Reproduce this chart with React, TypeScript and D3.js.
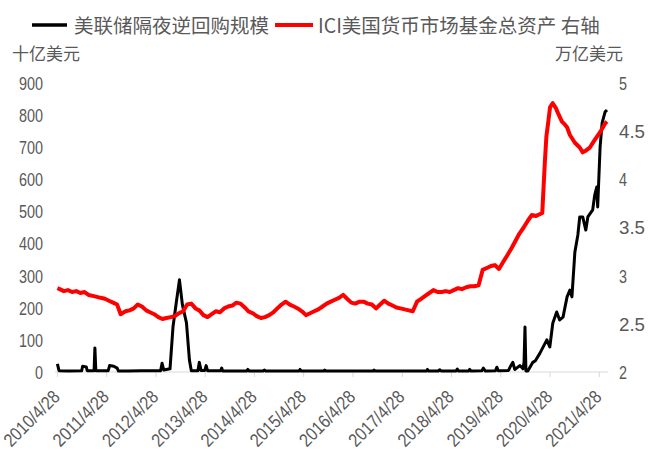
import React from "react";
import * as d3 from "d3";

const rrpDates = [
  "2010-04-28","2010-05-10","2010-07-20","2010-10-25","2010-11-01","2010-11-28","2010-12-05",
  "2011-01-25","2011-01-31","2011-02-07","2011-05-10","2011-05-20","2011-06-20","2011-07-15","2011-07-25","2011-10-01",
  "2012-01-10","2012-06-01","2012-06-12","2012-06-25","2012-08-10","2012-09-01","2012-09-25","2012-10-19","2012-11-10","2012-12-10",
  "2013-01-01","2013-01-15","2013-03-05","2013-03-15","2013-03-28","2013-04-25","2013-05-05","2013-05-15","2013-08-20","2013-08-28","2013-09-05",
  "2014-03-01","2014-03-10","2014-03-20","2014-07-01","2014-07-10","2014-07-20",
  "2015-03-25","2015-04-01","2015-04-10","2015-09-25","2015-10-01","2015-10-10",
  "2016-09-25","2016-10-01","2016-10-10",
  "2017-10-25","2017-11-01","2017-11-10",
  "2018-01-20","2018-02-01","2018-02-10","2018-06-01","2018-06-10","2018-06-20","2018-09-01","2018-09-10","2018-09-20","2018-12-10","2018-12-20",
  "2019-01-05","2019-03-20","2019-03-30","2019-04-10","2019-06-25","2019-07-10","2019-07-27","2019-08-10","2019-09-17","2019-10-10","2019-10-18","2019-10-25","2019-11-01","2019-11-15","2019-12-22",
  "2020-01-10","2020-02-12","2020-04-04","2020-04-26","2020-05-18","2020-06-16","2020-07-08","2020-08-02","2020-09-01","2020-09-22","2020-10-07","2020-10-29","2020-11-20","2020-12-04","2020-12-26",
  "2021-01-18","2021-02-02","2021-03-10","2021-03-25","2021-04-09","2021-04-16","2021-05-04","2021-05-19","2021-06-10","2021-06-24",
];
const rrpValues = [
  25,4,3,4,18,16,4,
  4,75,4,4,20,18,12,3,3,
  4,4,27,6,10,140,215,287,209,153,
  37,4,4,30,5,5,20,4,4,12,3,
  3,8,3,3,6,3,
  3,8,3,3,6,3,
  3,6,3,
  3,8,3,
  3,7,3,3,9,3,3,8,3,4,12,
  3,4,15,4,5,18,30,8,20,10,30,140,3,3,30,
  35,58,100,78,152,187,162,171,234,255,234,374,427,483,483,
  442,483,505,551,576,514,701,776,810,816,
];

const mmfDates = [
  "2010-04-28","2010-05-15","2010-06-15","2010-07-15","2010-08-15","2010-09-15","2010-10-15","2010-11-15","2010-12-15",
  "2011-01-15","2011-02-15","2011-03-15","2011-04-15","2011-05-15","2011-06-15","2011-07-15","2011-08-10","2011-09-15","2011-10-15","2011-11-15","2011-12-15",
  "2012-01-15","2012-02-15","2012-03-15","2012-04-15","2012-05-15","2012-06-15","2012-07-15","2012-08-15","2012-09-15","2012-10-15","2012-11-15","2012-12-15",
  "2013-01-15","2013-02-15","2013-03-15","2013-04-15","2013-05-15","2013-06-15","2013-07-15","2013-08-15","2013-09-15","2013-10-15","2013-11-15","2013-12-15",
  "2014-01-15","2014-02-15","2014-03-15","2014-04-15","2014-05-15","2014-06-15","2014-07-15","2014-08-15","2014-09-15","2014-10-15","2014-11-15","2014-12-15",
  "2015-01-15","2015-02-15","2015-03-15","2015-04-15","2015-05-15","2015-06-15","2015-07-15","2015-08-15","2015-09-15","2015-10-15","2015-11-15","2015-12-15",
  "2016-01-15","2016-02-15","2016-03-15","2016-04-15","2016-05-15","2016-06-15","2016-07-15","2016-08-15","2016-09-15","2016-10-15","2016-11-15","2016-12-15",
  "2017-01-15","2017-02-15","2017-03-15","2017-04-15","2017-05-15","2017-06-15","2017-07-15","2017-08-15","2017-09-15","2017-10-15","2017-11-15","2017-12-15",
  "2018-01-15","2018-02-15","2018-03-15","2018-04-15","2018-05-15","2018-06-15","2018-07-15","2018-08-15","2018-09-15","2018-10-15","2018-11-15","2018-12-15",
  "2019-01-15","2019-02-15","2019-03-15","2019-04-15","2019-05-15","2019-06-15","2019-07-15","2019-08-15","2019-09-15","2019-10-15","2019-11-15","2019-12-15",
  "2020-01-15","2020-02-15","2020-03-01","2020-03-20","2020-04-01","2020-04-15","2020-04-28","2020-05-18","2020-06-10","2020-06-25","2020-07-25","2020-08-15","2020-09-01","2020-09-22","2020-10-29","2020-12-04","2020-12-26",
  "2021-01-20","2021-02-17","2021-03-25","2021-05-04","2021-06-10","2021-06-24",
];
const mmfValues = [
  2.87,2.86,2.84,2.85,2.83,2.84,2.82,2.83,2.80,
  2.79,2.78,2.77,2.76,2.74,2.72,2.70,2.60,2.63,2.64,2.66,2.70,
  2.68,2.64,2.62,2.60,2.57,2.55,2.56,2.57,2.58,2.61,2.63,2.70,
  2.71,2.66,2.64,2.59,2.57,2.60,2.63,2.62,2.66,2.68,2.69,2.72,
  2.71,2.67,2.63,2.61,2.58,2.56,2.57,2.59,2.62,2.66,2.70,2.73,
  2.70,2.68,2.66,2.63,2.59,2.61,2.63,2.65,2.68,2.71,2.73,2.75,
  2.77,2.80,2.76,2.72,2.71,2.73,2.73,2.71,2.70,2.66,2.70,2.74,
  2.71,2.69,2.67,2.66,2.65,2.64,2.63,2.73,2.76,2.79,2.82,2.85,
  2.83,2.83,2.84,2.83,2.85,2.87,2.86,2.88,2.89,2.89,2.90,3.06,
  3.08,3.10,3.11,3.07,3.14,3.21,3.28,3.36,3.44,3.50,3.57,3.63,
  3.62,3.64,3.65,4.17,4.45,4.60,4.75,4.79,4.74,4.69,4.60,4.57,4.54,4.46,4.38,4.33,4.28,
  4.30,4.33,4.41,4.49,4.58,4.60,
];

const leftTicks = [0, 100, 200, 300, 400, 500, 600, 700, 800, 900];
const rightTicks = [2, 2.5, 3, 3.5, 4, 4.5, 5];
const xTickYears = [2010, 2011, 2012, 2013, 2014, 2015, 2016, 2017, 2018, 2019, 2020, 2021];

const legendLabels = ["美联储隔夜逆回购规模", "ICI美国货币市场基金总资产 右轴"];
const leftUnit = "十亿美元";
const rightUnit = "万亿美元";

const parse = d3.timeParse("%Y-%m-%d");

export default function App() {
  const x = d3
    .scaleTime()
    .domain([new Date(2010, 3, 28), new Date(2021, 3, 28)])
    .range([57.4, 599.3]);
  const yL = d3.scaleLinear().domain([0, 900]).range([372, 83]);
  const yR = d3.scaleLinear().domain([2, 5]).range([372, 83]);

  const rrp = rrpDates.map((d, i) => ({ date: parse(d) as Date, v: rrpValues[i] }));
  const mmf = mmfDates.map((d, i) => ({ date: parse(d) as Date, v: mmfValues[i] }));

  const rrpLine = d3
    .line<{ date: Date; v: number }>()
    .x((d) => x(d.date))
    .y((d) => yL(d.v));
  const mmfLine = d3
    .line<{ date: Date; v: number }>()
    .x((d) => x(d.date))
    .y((d) => yR(d.v));

  const numFont = "'Liberation Sans', Arial, sans-serif";
  const cjkFont = "'Noto Sans CJK SC', sans-serif";
  const textColor = "#595959";
  // condensed look: width per character
  const numWidth = (s: string) =>
    s.split("").reduce((w, c) => w + (c === "." ? 10 : c === "/" ? 4.2 : 8), 0);

  return (
    <svg
      width={648}
      height={459}
      style={{ position: "absolute", left: 0, top: 0, background: "#fff" }}
    >
      <rect x={0} y={0} width={648} height={459} fill="#fff" />
      {/* legend */}
      <line x1={32} x2={67} y1={25} y2={25} stroke="#000" strokeWidth={3.5} />
      <text x={74} y={33} fontFamily={cjkFont} fontSize={19.5} fill={textColor}>
        {legendLabels[0]}
      </text>
      <line x1={275} x2={313} y1={25} y2={25} stroke="#ff0000" strokeWidth={4} />
      <text x={318} y={33} fontFamily={cjkFont} fontSize={19.5} fill={textColor}>
        {legendLabels[1]}
      </text>
      {/* units */}
      <text x={12} y={60} fontFamily={cjkFont} fontSize={17} fill={textColor}>
        {leftUnit}
      </text>
      <text x={623} y={60} textAnchor="end" fontFamily={cjkFont} fontSize={17} fill={textColor}>
        {rightUnit}
      </text>

      {/* left ticks */}
      {leftTicks.map((t) => (
        <text
          key={"l" + t}
          x={43}
          y={yL(t)}
          dy="0.36em"
          textAnchor="end"
          fontFamily={numFont}
          fontSize={19}
          fill={textColor}
          textLength={numWidth(String(t))}
          lengthAdjust="spacingAndGlyphs"
        >
          {t}
        </text>
      ))}
      {/* right ticks */}
      {rightTicks.map((t) => (
        <text
          key={"r" + t}
          x={619}
          y={yR(t)}
          dy="0.36em"
          textAnchor="start"
          fontFamily={numFont}
          fontSize={19}
          fill={textColor}
          textLength={numWidth(String(t))}
          lengthAdjust="spacingAndGlyphs"
        >
          {t}
        </text>
      ))}

      {/* x axis */}
      <line x1={55} x2={608} y1={372} y2={372} stroke="#d9d9d9" strokeWidth={1} />
      {xTickYears.map((yr) => {
        const tx = x(new Date(yr, 3, 28));
        const label = `${yr}/4/28`;
        return (
          <g key={"x" + yr}>
            <line x1={tx} x2={tx} y1={372} y2={377} stroke="#d9d9d9" />
            <text
              transform={`translate(${tx + 3.5},398) rotate(-45)`}
              textAnchor="end"
              fontFamily={numFont}
              fontSize={18.5}
              fill={textColor}
              textLength={numWidth(label) + 6}
              lengthAdjust="spacingAndGlyphs"
            >
              {label}
            </text>
          </g>
        );
      })}

      {/* series */}
      <path d={rrpLine(rrp) || ""} fill="none" stroke="#000" strokeWidth={3} strokeLinejoin="round" />
      <path d={mmfLine(mmf) || ""} fill="none" stroke="#ff0000" strokeWidth={4} strokeLinejoin="round" />
    </svg>
  );
}
